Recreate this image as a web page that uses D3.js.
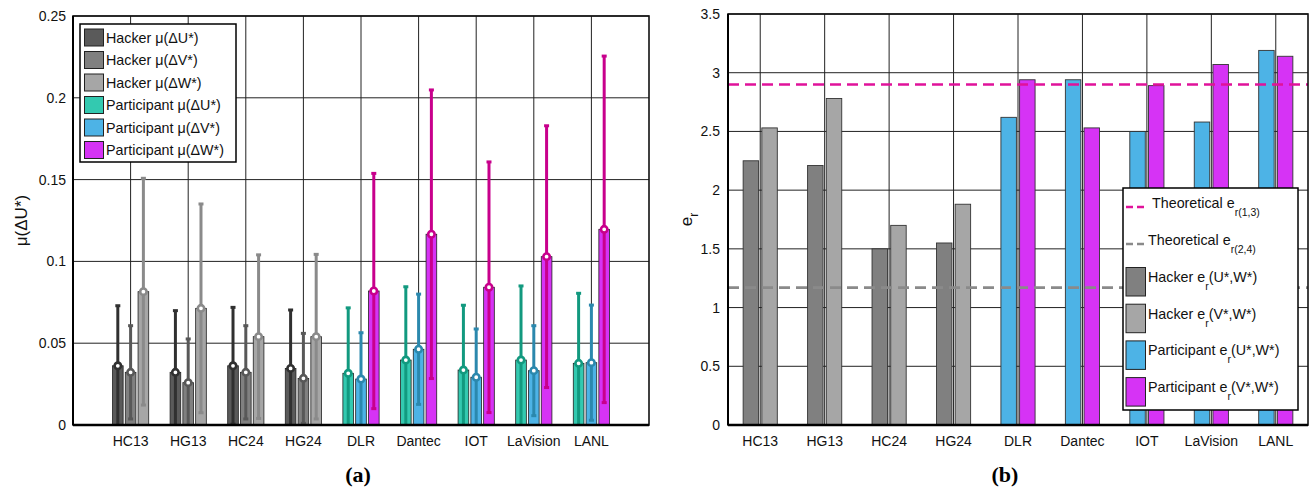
<!DOCTYPE html>
<html><head><meta charset="utf-8">
<script src="https://cdn.jsdelivr.net/npm/d3@7"></script>
<style>
body{margin:0;background:#fff;}
text{font-family:"Liberation Sans",Arial,Helvetica,sans-serif;}
text.cap{font-family:"Liberation Serif","Times New Roman",serif;}
</style></head>
<body><svg id="c" width="1310" height="490"></svg>
<script>
// ---------- DATA ----------
const categories = ["HC13","HG13","HC24","HG24","DLR","Dantec","IOT","LaVision","LANL"];
// panel (a): mean values and standard deviations
const meanU = [0.0362,0.0322,0.0362,0.0346,0.0316,0.0397,0.0336,0.0397,0.0377];
const meanV = [0.0322,0.0259,0.0322,0.0285,0.0281,0.0463,0.0292,0.0332,0.0381];
const meanW = [0.0815,0.0713,0.0540,0.0540,0.0819,0.1166,0.0842,0.1029,0.1196];
const errU  = [0.0367,0.0377,0.0357,0.0357,0.0400,0.0448,0.0396,0.0453,0.0428];
const errV  = [0.0285,0.0267,0.0285,0.0275,0.0283,0.0337,0.0295,0.0275,0.0352];
const errW  = [0.0693,0.0638,0.0500,0.0503,0.0719,0.0882,0.0766,0.0800,0.1059];
const yTicksA = [0,0.05,0.1,0.15,0.2,0.25];
const yTickLabelsA = ["0","0.05","0.1","0.15","0.2","0.25"];
const legendA = ["Hacker μ(ΔU*)","Hacker μ(ΔV*)","Hacker μ(ΔW*)","Participant μ(ΔU*)","Participant μ(ΔV*)","Participant μ(ΔW*)"];
// panel (b): e_r values
const erUW = [2.25,2.21,1.50,1.55,2.62,2.94,2.50,2.58,3.19];
const erVW = [2.53,2.78,1.70,1.88,2.94,2.53,2.89,3.07,3.14];
const hackerCount = 4;
const theo13 = 2.9;
const theo24 = 1.17;
const yTicksB = [0,0.5,1,1.5,2,2.5,3,3.5];
const yTickLabelsB = ["0","0.5","1","1.5","2","2.5","3","3.5"];

// ---------- STYLE ----------
const hackerFill = ["#5a5a5a","#808080","#a6a6a6"];
const hackerErr  = ["#303030","#585858","#8a8a8a"];
const partFill   = ["#33c9b0","#4db3e6","#d633f5"];
const partErr    = ["#12997f","#2b88ad","#c8008c"];
const gridCol = "#222";

const svg = d3.select("#c");

// ================= PANEL A =================
const A = {l:73,r:649,t:16,b:425};
const xA = d3.scaleLinear().domain([0,10]).range([A.l,A.r]);
const yA = d3.scaleLinear().domain([0,0.25]).range([A.b,A.t]);
const gA = svg.append("g");

gA.selectAll(".hg").data(yTicksA).join("line")
  .attr("x1",A.l).attr("x2",A.r).attr("y1",d=>yA(d)).attr("y2",d=>yA(d))
  .attr("stroke",gridCol).attr("stroke-width",1);
gA.selectAll(".vg").data(categories).join("line")
  .attr("x1",(d,i)=>xA(i+1)).attr("x2",(d,i)=>xA(i+1)).attr("y1",A.t).attr("y2",A.b)
  .attr("stroke",gridCol).attr("stroke-width",1);

const seriesA = [
  {m:meanU,e:errU,off:-0.222},
  {m:meanV,e:errV,off:0},
  {m:meanW,e:errW,off:0.222}
];
const bwA = 0.185;
seriesA.forEach((s,k)=>{
  categories.forEach((c,i)=>{
    const hacker = i<hackerCount;
    const fill = hacker?hackerFill[k]:partFill[k];
    const ec = hacker?hackerErr[k]:partErr[k];
    const cx = xA(i+1+s.off);
    const x0 = xA(i+1+s.off-bwA/2), x1 = xA(i+1+s.off+bwA/2);
    gA.append("rect").attr("x",x0).attr("y",yA(s.m[i])).attr("width",x1-x0)
      .attr("height",yA(0)-yA(s.m[i])).attr("fill",fill).attr("stroke","#222").attr("stroke-width",0.8);
    const lo = Math.max(0,s.m[i]-s.e[i]), hi = s.m[i]+s.e[i];
    gA.append("line").attr("x1",cx).attr("x2",cx).attr("y1",yA(lo)).attr("y2",yA(hi))
      .attr("stroke",ec).attr("stroke-width",3);
    gA.append("rect").attr("x",cx-2.5).attr("y",yA(hi)-1.5).attr("width",5).attr("height",3).attr("fill",ec);
    if(lo>0) gA.append("rect").attr("x",cx-2.5).attr("y",yA(lo)-1.5).attr("width",5).attr("height",3).attr("fill",ec);
    gA.append("circle").attr("cx",cx).attr("cy",yA(s.m[i])).attr("r",3.2)
      .attr("fill","#fff").attr("stroke",ec).attr("stroke-width",2.6);
  });
});

gA.append("rect").attr("x",A.l).attr("y",A.t).attr("width",A.r-A.l).attr("height",A.b-A.t)
  .attr("fill","none").attr("stroke","#111").attr("stroke-width",1.6);
gA.append("line").attr("x1",A.l).attr("x2",A.r).attr("y1",A.b).attr("y2",A.b).attr("stroke","#000").attr("stroke-width",2.4);
gA.append("line").attr("x1",A.l).attr("x2",A.l).attr("y1",A.t).attr("y2",A.b).attr("stroke","#000").attr("stroke-width",2);

gA.selectAll(".yt").data(yTicksA).join("text")
  .attr("x",A.l-7).attr("y",d=>yA(d)+5).attr("text-anchor","end").attr("font-size",14).attr("fill","#111")
  .text((d,i)=>yTickLabelsA[i]);
gA.selectAll(".xt").data(categories).join("text")
  .attr("x",(d,i)=>xA(i+1)).attr("y",446).attr("text-anchor","middle").attr("font-size",14).attr("fill","#111")
  .text(d=>d);
gA.append("text").attr("transform",`translate(27,${(A.t+A.b)/2}) rotate(-90)`).attr("text-anchor","middle")
  .attr("font-size",17).attr("fill","#111").text("μ(ΔU*)");

const LA = {x:80,y:24,w:156,h:138};
gA.append("rect").attr("x",LA.x).attr("y",LA.y).attr("width",LA.w).attr("height",LA.h)
  .attr("fill","#fff").attr("stroke","#000").attr("stroke-width",1.5);
const legFillA = hackerFill.concat(partFill);
legendA.forEach((t,i)=>{
  const yy = 29 + i*22.5;
  gA.append("rect").attr("x",84.5).attr("y",yy).attr("width",19).attr("height",17)
    .attr("fill",legFillA[i]).attr("stroke","#222").attr("stroke-width",1);
  gA.append("text").attr("x",106).attr("y",yy+13.5).attr("font-size",14.3).attr("fill","#111").text(t);
});

svg.append("text").attr("class","cap").attr("x",358).attr("y",482).attr("text-anchor","middle")
  .attr("font-weight","bold").attr("font-size",22).text("(a)");

// ================= PANEL B =================
const B = {l:728,r:1308,t:14,b:425};
const xB = d3.scaleLinear().domain([0.5,9.5]).range([B.l,B.r]);
const yB = d3.scaleLinear().domain([0,3.5]).range([B.b,B.t]);
const gB = svg.append("g");

gB.selectAll(".hg").data(yTicksB).join("line")
  .attr("x1",B.l).attr("x2",B.r).attr("y1",d=>yB(d)).attr("y2",d=>yB(d))
  .attr("stroke",gridCol).attr("stroke-width",1);
gB.selectAll(".vg").data(categories).join("line")
  .attr("x1",(d,i)=>xB(i+1)).attr("x2",(d,i)=>xB(i+1)).attr("y1",B.t).attr("y2",B.b)
  .attr("stroke",gridCol).attr("stroke-width",1);

const bwB = 0.24, offB = 0.145;
const colB = {h:["#808080","#a6a6a6"], p:["#4db3e6","#d633f5"]};
[erUW,erVW].forEach((arr,k)=>{
  categories.forEach((c,i)=>{
    const hacker = i<hackerCount;
    const fill = hacker?colB.h[k]:colB.p[k];
    const cpos = i+1+(k===0?-offB:offB);
    const x0 = xB(cpos-bwB/2), x1 = xB(cpos+bwB/2);
    gB.append("rect").attr("x",x0).attr("y",yB(arr[i])).attr("width",x1-x0)
      .attr("height",yB(0)-yB(arr[i])).attr("fill",fill).attr("stroke","#333").attr("stroke-width",0.9);
  });
});

gB.append("line").attr("x1",B.l).attr("x2",B.r).attr("y1",yB(theo13)).attr("y2",yB(theo13))
  .attr("stroke","#e0129a").attr("stroke-width",2.6).attr("stroke-dasharray","11,6");
gB.append("line").attr("x1",B.l).attr("x2",B.r).attr("y1",yB(theo24)).attr("y2",yB(theo24))
  .attr("stroke","#8a8a8a").attr("stroke-width",2.6).attr("stroke-dasharray","11,6");

gB.append("rect").attr("x",B.l).attr("y",B.t).attr("width",B.r-B.l).attr("height",B.b-B.t)
  .attr("fill","none").attr("stroke","#111").attr("stroke-width",1.6);
gB.append("line").attr("x1",B.l).attr("x2",B.r).attr("y1",B.b).attr("y2",B.b).attr("stroke","#000").attr("stroke-width",2.4);
gB.append("line").attr("x1",B.l).attr("x2",B.l).attr("y1",B.t).attr("y2",B.b).attr("stroke","#000").attr("stroke-width",2);

gB.selectAll(".yt").data(yTicksB).join("text")
  .attr("x",B.l-8).attr("y",d=>yB(d)+5).attr("text-anchor","end").attr("font-size",14).attr("fill","#111")
  .text((d,i)=>yTickLabelsB[i]);
gB.selectAll(".xt").data(categories).join("text")
  .attr("x",(d,i)=>xB(i+1)).attr("y",446).attr("text-anchor","middle").attr("font-size",14).attr("fill","#111")
  .text(d=>d);
const yl = gB.append("text").attr("transform",`translate(692,${(B.t+B.b)/2}) rotate(-90)`).attr("text-anchor","middle")
  .attr("font-size",17).attr("fill","#111");
yl.append("tspan").text("e");
yl.append("tspan").attr("font-size",12).attr("dy",6).text("r");

const LB = {x:1123,y:188,w:175,h:222};
gB.append("rect").attr("x",LB.x).attr("y",LB.y).attr("width",LB.w).attr("height",LB.h)
  .attr("fill","#fff").attr("stroke","#000").attr("stroke-width",1.5);
const lineLeg = [
  {c:"#e0129a", sub:"r(1,3)", y:207, tx:1152},
  {c:"#8a8a8a", sub:"r(2,4)", y:244, tx:1148}
];
lineLeg.forEach(o=>{
  gB.append("line").attr("x1",1126).attr("x2",1146).attr("y1",o.y).attr("y2",o.y)
    .attr("stroke",o.c).attr("stroke-width",2.6).attr("stroke-dasharray","7,4");
  const t = gB.append("text").attr("x",o.tx).attr("y",o.y+1).attr("font-size",14.3).attr("fill","#111");
  t.append("tspan").text("Theoretical e");
  t.append("tspan").attr("font-size",10.5).attr("dy",8).text(o.sub);
});
const boxLeg = [
  {c:"#808080", a:"Hacker e", b:"(U*,W*)"},
  {c:"#a6a6a6", a:"Hacker e", b:"(V*,W*)"},
  {c:"#4db3e6", a:"Participant e", b:"(U*,W*)"},
  {c:"#d633f5", a:"Participant e", b:"(V*,W*)"}
];
boxLeg.forEach((o,i)=>{
  const yy = 267.5 + i*36.7;
  gB.append("rect").attr("x",1126).attr("y",yy).attr("width",19.5).attr("height",28.5)
    .attr("fill",o.c).attr("stroke","#222").attr("stroke-width",1);
  const t = gB.append("text").attr("x",1148).attr("y",yy+14.5).attr("font-size",14.3).attr("fill","#111");
  t.append("tspan").text(o.a);
  t.append("tspan").attr("font-size",10.5).attr("dy",8).text("r");
  t.append("tspan").attr("dy",-8).text(o.b);
});

svg.append("text").attr("class","cap").attr("x",1005).attr("y",482).attr("text-anchor","middle")
  .attr("font-weight","bold").attr("font-size",22).text("(b)");
</script>
</body></html>
